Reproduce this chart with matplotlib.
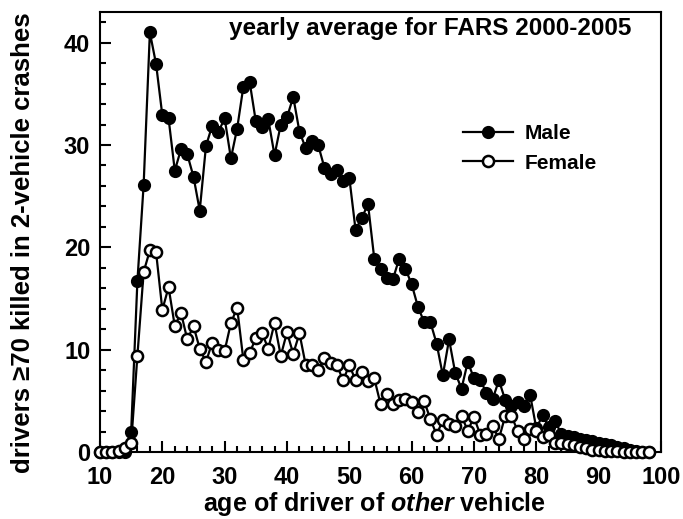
import matplotlib
matplotlib.use("Agg")
import matplotlib.pyplot as plt
from matplotlib.ticker import MultipleLocator

plt.rcParams['font.family'] = ['Liberation Sans', 'DejaVu Sans']
plt.rcParams['font.weight'] = 'bold'
plt.rcParams['mathtext.fontset'] = 'custom'
plt.rcParams['mathtext.rm'] = 'Liberation Sans:bold'
plt.rcParams['mathtext.it'] = 'Liberation Sans:italic:bold'

ages = list(range(10, 99))

male = [0, 0, 0, 0, 0, 2.0, 16.7, 26.1, 41.0, 37.9,
        32.9, 32.6, 27.5, 29.6, 29.1, 26.9, 23.6, 29.9, 31.9, 31.3,
        32.6, 28.7, 31.6, 35.7, 36.2, 32.3, 31.8, 32.5, 29.0, 32.0,
        32.7, 34.7, 31.3, 29.7, 30.4, 30.0, 27.8, 27.2, 27.6, 26.5,
        26.8, 21.7, 22.9, 24.2, 18.9, 17.9, 17.0, 16.9, 18.9, 17.9,
        16.4, 14.2, 12.7, 12.7, 10.6, 7.5, 11.0, 7.7, 6.2, 8.8,
        7.2, 7.0, 5.8, 5.2, 7.0, 5.1, 4.5, 4.9, 4.5, 5.6,
        2.3, 3.6, 2.4, 3.0, 1.8, 1.6, 1.5, 1.3, 1.2, 1.1,
        0.9, 0.8, 0.7, 0.5, 0.4, 0.2, 0.1, 0.0, 0.0]

female = [0, 0, 0, 0.1, 0.4, 0.9, 9.4, 17.6, 19.7, 19.5,
          13.9, 16.1, 12.3, 13.6, 11.0, 12.3, 10.1, 8.8, 10.7, 10.0,
          9.9, 12.6, 14.1, 9.0, 9.7, 11.1, 11.6, 10.1, 12.6, 9.4,
          11.7, 9.6, 11.6, 8.5, 8.5, 8.0, 9.2, 8.7, 8.5, 7.0,
          8.5, 7.0, 7.8, 6.9, 7.2, 4.7, 5.7, 4.7, 5.1, 5.2,
          4.9, 3.9, 5.0, 3.2, 1.7, 3.1, 2.7, 2.5, 3.5, 2.1,
          3.4, 1.7, 1.8, 2.5, 1.3, 3.5, 3.5, 2.1, 1.3, 2.2,
          2.1, 1.5, 1.7, 0.85, 0.85, 0.8, 0.7, 0.5, 0.35, 0.2,
          0.15, 0.1, 0.1, 0.05, 0.0, 0.0, 0.0, 0.0, 0.0]

x_ticks = [10, 20, 30, 40, 50, 60, 70, 80, 90, 100]
y_ticks = [0, 10, 20, 30, 40]

fig = plt.figure(figsize=(6.83, 5.19), dpi=100)
ax = fig.add_axes([100/683, 1 - 452/519, 561/683, 440/519])

ax.plot(ages, male, '-o', color='black', lw=1.6, ms=8,
        markerfacecolor='black', markeredgecolor='black', mew=1.5,
        label='Male', clip_on=False, zorder=3)
ax.plot(ages, female, '-o', color='black', lw=1.6, ms=8,
        markerfacecolor='white', markeredgecolor='black', mew=1.8,
        label='Female', clip_on=False, zorder=4)

ax.set_xlim(10, 100)
ax.set_ylim(0, 43)
ax.set_xticks(x_ticks)
ax.set_yticks(y_ticks)
ax.xaxis.set_minor_locator(MultipleLocator(2))
ax.yaxis.set_minor_locator(MultipleLocator(2))
ax.tick_params(which='both', direction='in', top=False, right=False, width=1.5)
ax.tick_params(which='major', length=8)
ax.tick_params(which='minor', length=4.5)
ax.tick_params(axis='x', pad=10)
ax.tick_params(axis='y', pad=7)
for lab in ax.get_xticklabels() + ax.get_yticklabels():
    lab.set_fontsize(17)
    lab.set_fontweight('bold')
for s in ax.spines.values():
    s.set_linewidth(1.5)

fig.text(374/683, 1 - 504/519, 'age of driver of $other$ vehicle',
         ha='center', va='center', fontsize=18, fontweight='bold')
fig.text(23/683, 1 - 243/519, 'drivers \u226570 killed in 2-vehicle crashes',
         ha='center', va='center', rotation=90, fontsize=18.5, fontweight='bold')

ax.text(0.588, 0.962, 'yearly average for FARS 2000-2005', transform=ax.transAxes,
        ha='center', va='center', fontsize=17.5, fontweight='bold')

leg = ax.legend(loc='upper left', bbox_to_anchor=(0.647, 0.745), frameon=False,
                prop={'size': 15, 'weight': 'bold'}, handlelength=2.4,
                handletextpad=0.55, labelspacing=0.5, borderaxespad=0,
                borderpad=0)

fig.savefig('out.png', dpi=100)
